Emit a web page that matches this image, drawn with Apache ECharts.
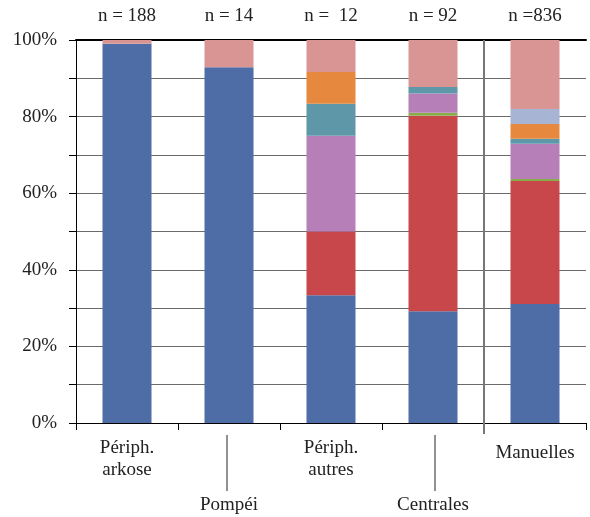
<!DOCTYPE html>
<html>
<head>
<meta charset="utf-8">
<script src="https://cdn.jsdelivr.net/npm/echarts@6/dist/echarts.min.js"></script>
<style>html,body{margin:0;padding:0;background:#fff}#c{width:590px;height:517px}</style>
</head>
<body>
<div id="c"></div>
<script>
const categories = ['Périph.\narkose', 'Pompéi', 'Périph.\nautres', 'Centrales', 'Manuelles'];
const countLabels = ['n = 188', 'n = 14', 'n =  12', 'n = 92', 'n =836'];
const yTicks = [0, 10, 20, 30, 40, 50, 60, 70, 80, 90, 100];
const blueVals   = [99.0, 92.86, 33.33, 29.2, 31.1];
const redVals    = [0, 0, 16.67, 51.0, 32.1];
const greenVals  = [0, 0, 0, 0.8, 0.5];
const purpleVals = [0, 0, 25.0, 5.0, 9.2];
const tealVals   = [0, 0, 8.33, 1.7, 1.3];
const orangeVals = [0, 0, 8.33, 0, 3.9];
const lblueVals  = [0, 0, 0, 0, 3.9];
const pinkVals   = [1.0, 7.14, 8.34, 12.3, 18.0];

const FONT = 'Liberation Serif';
const seriesDefs = [
  ['blue', blueVals, '#4e6ca5'],
  ['red', redVals, '#c8474a'],
  ['green', greenVals, '#8aad4b'],
  ['purple', purpleVals, '#b77fb8'],
  ['teal', tealVals, '#5e98a8'],
  ['orange', orangeVals, '#e6883e'],
  ['lightblue', lblueVals, '#a8b4d3'],
  ['pink', pinkVals, '#d99594']
];

const tx = {fontFamily: FONT, fontSize: 19, color: '#222'};
const chart = echarts.init(document.getElementById('c'), null, {renderer: 'canvas'});
const option = {
  animation: false,
  backgroundColor: '#fff',
  textStyle: {fontFamily: FONT},
  grid: {left: 76, right: 4, top: 40, bottom: 94},
  xAxis: [{
    type: 'category',
    data: categories,
    position: 'bottom',
    axisLine: {lineStyle: {color: '#000', width: 1}},
    axisTick: {show: true, length: 7, lineStyle: {color: '#000'}},
    axisLabel: {
      interval: 0, margin: 14, color: '#222', fontFamily: FONT, fontSize: 19, lineHeight: 22,
      formatter: function (v) {
        if (v === 'Pompéi' || v === 'Centrales') return '{sp| }\n{t|' + v + '}';
        if (v === 'Manuelles') return '{sp2| }\n{t|' + v + '}';
        return '{t|' + v.split('\n').join('}\n{t|') + '}';
      },
      rich: {
        t: Object.assign({lineHeight: 22}, tx),
        sp: Object.assign({}, tx, {lineHeight: 57, fontSize: 1}),
        sp2: Object.assign({}, tx, {lineHeight: 5, fontSize: 1})
      }
    },
    splitLine: {show: false}
  }, {
    type: 'category',
    data: countLabels,
    position: 'top',
    axisLine: {lineStyle: {color: '#000', width: 2}},
    axisTick: {show: false},
    axisLabel: {interval: 0, margin: 14, color: '#222', fontFamily: FONT, fontSize: 19}
  }],
  yAxis: {
    type: 'value', min: 0, max: 100, interval: 10,
    axisLine: {show: true, lineStyle: {color: '#000'}},
    axisTick: {show: true, length: 7, lineStyle: {color: '#000'}},
    axisLabel: {
      margin: 19, color: '#222', fontFamily: FONT, fontSize: 19,
      formatter: function (v) { return (yTicks.indexOf(v) >= 0 && v % 20 === 0) ? v + '%' : ''; }
    },
    splitLine: {show: true, lineStyle: {color: '#6a6a6a', width: 1}}
  },
  series: seriesDefs.map(function (d) {
    return {
      name: d[0], type: 'bar', stack: 'all', data: d[1], barWidth: 49,
      itemStyle: {color: d[2]}, xAxisIndex: 0
    };
  })
};
chart.setOption(option);

function addLines() {
  const x1 = chart.convertToPixel({xAxisIndex: 0}, 1);
  const x3 = chart.convertToPixel({xAxisIndex: 0}, 3);
  const x4 = chart.convertToPixel({xAxisIndex: 0}, 4);
  const sep = (x3 + x4) / 2;
  const yTop = chart.convertToPixel({yAxisIndex: 0}, 100);
  const y0 = chart.convertToPixel({yAxisIndex: 0}, 0);
  const ls = {stroke: '#222', lineWidth: 1};
  chart.setOption({
    graphic: [
      {type: 'line', shape: {x1: sep, y1: yTop, x2: sep, y2: y0 + 11}, style: {stroke: '#777', lineWidth: 2}, z: 10},
      {type: 'line', shape: {x1: x1 - 2, y1: y0 + 12, x2: x1 - 2, y2: y0 + 68}, style: ls},
      {type: 'line', shape: {x1: x3 + 2, y1: y0 + 12, x2: x3 + 2, y2: y0 + 68}, style: ls}
    ]
  });
}
addLines();
</script>
</body>
</html>
